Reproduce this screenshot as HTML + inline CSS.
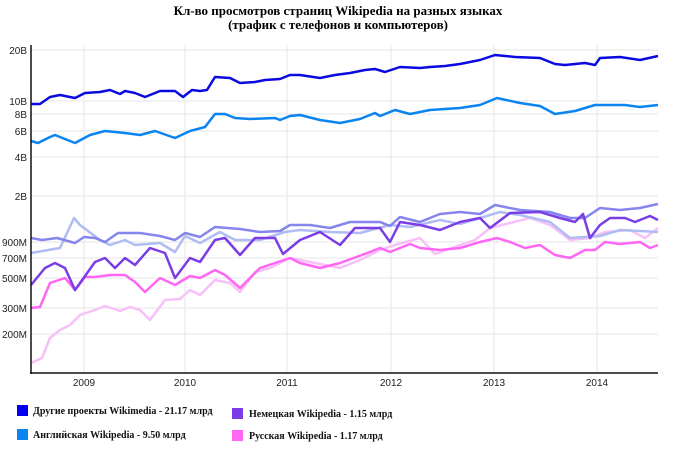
<!DOCTYPE html><html><head><meta charset="utf-8"><style>body{margin:0;background:#fff}svg{display:block}</style></head><body>
<svg width="675" height="453" xmlns="http://www.w3.org/2000/svg" font-family="Liberation Sans, sans-serif">
<text x="338" y="15" text-anchor="middle" font-family="Liberation Serif, serif" font-weight="bold" font-size="13">Кл-во просмотров страниц Wikipedia на разных языках</text>
<text x="338" y="29" text-anchor="middle" font-family="Liberation Serif, serif" font-weight="bold" font-size="13">(трафик с телефонов и компьютеров)</text>
<g stroke="#e6e6e6" stroke-width="1">
<line x1="31" x2="658" y1="50" y2="50"/><line x1="31" x2="658" y1="101" y2="101"/><line x1="31" x2="658" y1="114" y2="114"/><line x1="31" x2="658" y1="131" y2="131"/><line x1="31" x2="658" y1="157" y2="157"/><line x1="31" x2="658" y1="196" y2="196"/><line x1="31" x2="658" y1="242" y2="242"/><line x1="31" x2="658" y1="258" y2="258"/><line x1="31" x2="658" y1="278" y2="278"/><line x1="31" x2="658" y1="308" y2="308"/><line x1="31" x2="658" y1="334" y2="334"/>
<line x1="84" x2="84" y1="45" y2="373"/><line x1="185" x2="185" y1="45" y2="373"/><line x1="287" x2="287" y1="45" y2="373"/><line x1="391" x2="391" y1="45" y2="373"/><line x1="494" x2="494" y1="45" y2="373"/><line x1="597" x2="597" y1="45" y2="373"/>
</g>
<g font-size="10" fill="#222" text-anchor="end">
<text x="27" y="54">20B</text><text x="27" y="105">10B</text><text x="27" y="118">8B</text><text x="27" y="135">6B</text><text x="27" y="161">4B</text><text x="27" y="200">2B</text><text x="27" y="246">900M</text><text x="27" y="262">700M</text><text x="27" y="282">500M</text><text x="27" y="312">300M</text><text x="27" y="338">200M</text>
</g>
<g font-size="10" fill="#222" text-anchor="middle">
<text x="84" y="386">2009</text><text x="185" y="386">2010</text><text x="287" y="386">2011</text><text x="391" y="386">2012</text><text x="494" y="386">2013</text><text x="597" y="386">2014</text>
</g>
<g fill="none" stroke-width="2.5" stroke-linejoin="round">
<polyline stroke="#f8c0f8" points="31,363 42,358 50,338 60,330 70,325 80,315 95,310 105,306 120,311 130,307 140,310 150,320 165,300 180,299 190,290 200,295 215,280 230,283 240,292 255,272 270,268 290,258 310,262 340,268 360,260 380,250 395,245 420,238 435,254 460,245 475,240 490,228 510,223 530,218 550,225 570,240 590,238 605,232 630,230 645,238 658,228"/>
<polyline stroke="#b0bcf4" points="31,253 60,248 74,218 80,225 100,240 110,245 125,240 135,245 160,243 175,252 185,236 200,243 220,232 235,240 260,240 285,232 300,230 330,232 360,233 390,225 410,227 440,220 460,224 480,218 500,212 520,215 550,222 570,238 600,236 620,230 658,232"/>
<polyline stroke="#8585ee" points="31,238 42,240 57,238 75,243 84,237 95,238 105,242 118,233 140,233 160,236 175,240 185,233 200,237 215,227 240,229 260,232 280,231 290,225 310,225 330,228 350,222 380,222 390,226 400,217 420,222 440,214 460,212 480,214 495,205 520,210 550,212 570,218 585,218 600,208 620,210 640,208 658,204"/>
<polyline stroke="#ff66f5" points="31,308 40,307 50,283 65,278 75,290 85,277 95,277 110,275 125,275 135,282 145,292 160,278 175,285 190,276 200,278 215,270 225,275 240,288 260,268 275,263 290,258 300,263 320,268 340,263 370,252 380,248 390,252 410,244 420,248 440,250 460,248 480,242 497,238 510,242 525,248 540,245 555,255 570,258 585,250 595,250 605,242 620,244 640,242 650,248 658,245"/>
<polyline stroke="#7a3de6" points="31,285 45,268 55,263 65,268 75,290 95,262 105,258 115,268 125,258 135,265 150,248 165,253 175,278 190,258 200,262 215,240 225,238 240,255 255,238 275,238 283,254 300,240 320,232 340,245 355,228 380,228 390,242 400,222 420,225 440,230 460,222 480,218 490,228 510,213 540,212 560,218 575,222 583,214 590,238 600,225 610,218 625,218 635,222 650,216 658,220"/>
<polyline stroke="#0a84f0" points="31,141 38,143 50,137 55,135 75,143 90,135 105,131 125,133 140,135 155,131 175,138 190,131 205,127 215,114 225,114 235,118 250,119 275,118 280,120 290,116 300,115 320,120 340,123 360,119 375,113 380,116 395,110 410,114 430,110 460,108 480,105 497,98 520,103 540,106 555,114 575,111 595,105 625,105 640,107 658,105"/>
<polyline stroke="#0a0ae0" points="31,104 40,104 50,97 60,95 75,98 85,93 100,92 110,90 120,94 125,91 135,93 145,97 160,91 175,91 183,97 192,90 200,91 207,90 215,77 230,78 240,83 255,82 265,80 280,79 290,75 300,75 320,78 335,75 350,73 365,70 375,69 385,72 400,67 420,68 430,67 445,66 460,64 480,60 495,55 515,57 540,58 555,64 565,65 585,63 595,65 600,58 620,57 640,60 658,56"/>
</g>
<line x1="31" x2="31" y1="45" y2="374" stroke="#111" stroke-width="1.5"/>
<line x1="30" x2="658" y1="373" y2="373" stroke="#111" stroke-width="1.5"/>
<g font-family="Liberation Serif, serif" font-weight="bold" font-size="10" fill="#111">
<rect x="17" y="405" width="11" height="11" fill="#0000ee"/><text x="33" y="414">Другие проекты Wikimedia - 21.17 млрд</text>
<rect x="17" y="429" width="11" height="11" fill="#0a84f0"/><text x="33" y="438">Английская Wikipedia - 9.50 млрд</text>
<rect x="232" y="408" width="11" height="11" fill="#7a3de6"/><text x="249" y="417">Немецкая Wikipedia - 1.15 млрд</text>
<rect x="232" y="430" width="11" height="11" fill="#ff66f5"/><text x="249" y="439">Русская Wikipedia - 1.17 млрд</text>
</g>
</svg>
</body></html>
